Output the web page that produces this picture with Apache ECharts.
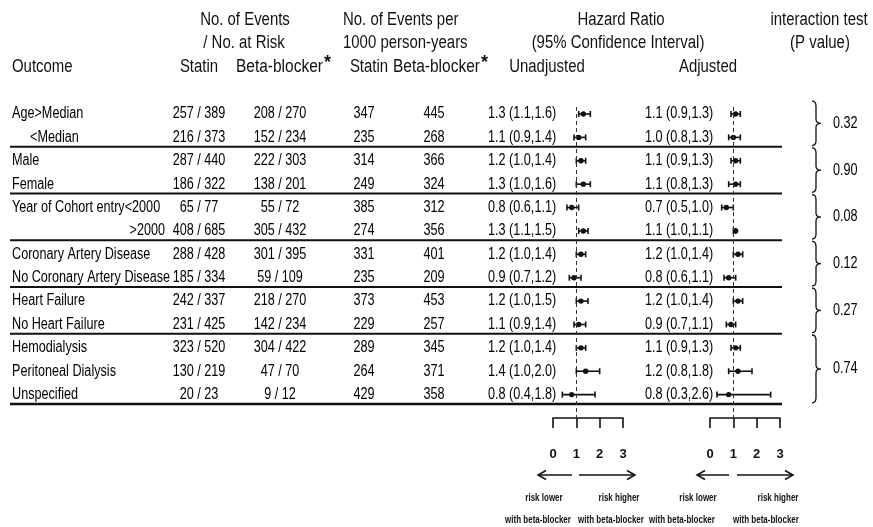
<!DOCTYPE html>
<html><head><meta charset="utf-8">
<script src="https://cdn.jsdelivr.net/npm/echarts@6/dist/echarts.min.js"></script>
<style>html,body{margin:0;padding:0;background:#fff}#c{width:873px;height:527px}</style>
</head><body><div id="c"></div>
<script>
// ---------------- data ----------------
const outcomes = ["Age>Median","<Median","Male","Female","Year of Cohort entry<2000",">2000",
  "Coronary Artery Disease","No Coronary Artery Disease","Heart Failure","No Heart Failure",
  "Hemodialysis","Peritoneal Dialysis","Unspecified"];
const statinEvents = ["257 / 389","216 / 373","287 / 440","186 / 322","65 / 77","408 / 685","288 / 428","185 / 334","242 / 337","231 / 425","323 / 520","130 / 219","20 / 23"];
const bbEvents = ["208 / 270","152 / 234","222 / 303","138 / 201","55 / 72","305 / 432","301 / 395","59 / 109","218 / 270","142 / 234","304 / 422","47 / 70","9 / 12"];
const statinRate = [347,235,314,249,385,274,331,235,373,229,289,264,429];
const bbRate = [445,268,366,324,312,356,401,209,453,257,345,371,358];
const unadjHR = [1.3,1.1,1.2,1.3,0.8,1.3,1.2,0.9,1.2,1.1,1.2,1.4,0.8];
const unadjLo = [1.1,0.9,1.0,1.0,0.6,1.1,1.0,0.7,1.0,0.9,1.0,1.0,0.4];
const unadjHi = [1.6,1.4,1.4,1.6,1.1,1.5,1.4,1.2,1.5,1.4,1.4,2.0,1.8];
const adjHR = [1.1,1.0,1.1,1.1,0.7,1.1,1.2,0.8,1.2,0.9,1.1,1.2,0.8];
const adjLo = [0.9,0.8,0.9,0.8,0.5,1.0,1.0,0.6,1.0,0.7,0.9,0.8,0.3];
const adjHi = [1.3,1.3,1.3,1.3,1.0,1.1,1.4,1.1,1.4,1.1,1.3,1.8,2.6];
const groups = [[0,1],[2,3],[4,5],[6,7],[8,9],[10,12]];
const pValues = ["0.32","0.90","0.08","0.12","0.27","0.74"];
const hrTicks = [0,1,2,3];

// ---------------- layout / style ----------------
const FONT = '"Liberation Sans", Arial, Helvetica, sans-serif';
const INK = '#111';
const GT = 107, GH = 311, YMIN = -0.3, YMAX = 13;
const NARROW = 0.79, ROWFS = 16;

function fmtCI(h, l, u) { return h.toFixed(1) + ' (' + l.toFixed(1) + ',' + u.toFixed(1) + ')'; }

function textCol(texts, xFor, alignFor) {
  return {
    type: 'custom', xAxisIndex: 0, yAxisIndex: 0, silent: true,
    data: texts.map((t, i) => [xFor(i), i]),
    renderItem(params, api) {
      const p = api.coord([api.value(0), api.value(1)]);
      return { type: 'text', x: p[0], y: p[1], scaleX: NARROW,
        style: { text: String(texts[params.dataIndex]), x: 0, y: 0,
          align: alignFor(params.dataIndex), verticalAlign: 'middle',
          fontSize: ROWFS, fontFamily: FONT, fill: '#000' } };
    }
  };
}

function forest(idx, est, lo, hi) {
  return {
    type: 'custom', xAxisIndex: idx, yAxisIndex: idx, silent: true,
    data: est.map((e, i) => [e, i, lo[i], hi[i]]),
    encode: { x: [0, 2, 3], y: 1 },
    renderItem(params, api) {
      const r = api.value(1);
      const c = api.coord([api.value(0), r]);
      const l = api.coord([api.value(2), r]);
      const h = api.coord([api.value(3), r]);
      const st = { stroke: INK, lineWidth: 1.6 };
      return { type: 'group', children: [
        { type: 'line', shape: { x1: l[0], y1: c[1], x2: h[0], y2: c[1] }, style: st },
        { type: 'line', shape: { x1: l[0], y1: c[1] - 3, x2: l[0], y2: c[1] + 3 }, style: st },
        { type: 'line', shape: { x1: h[0], y1: c[1] - 3, x2: h[0], y2: c[1] + 3 }, style: st },
        { type: 'circle', shape: { cx: c[0], cy: c[1], r: 2.7 }, style: { fill: INK } }
      ] };
    },
    markLine: {
      silent: true, symbol: 'none', label: { show: false },
      lineStyle: { type: [4, 3], color: '#333', width: 1 },
      data: [{ xAxis: 1 }]
    }
  };
}

function hdr(text, x, y, align, extra) {
  return Object.assign({ type: 'text', x: x, y: y, scaleX: 0.83,
    style: { text: text, x: 0, y: 0, align: align, verticalAlign: 'middle',
      fontSize: 18, fontFamily: FONT, fill: INK } }, extra || {});
}
function small(text, x, y) {
  return { type: 'text', x: x, y: y, scaleX: 0.8,
    style: { text: text, x: 0, y: 0, align: 'center', verticalAlign: 'middle',
      fontSize: 10, fontWeight: 'bold', fontFamily: FONT, fill: INK } };
}
function arrow(x1, x2, y) {
  const d = x2 > x1 ? -1 : 1;
  return { type: 'group', children: [
    { type: 'line', shape: { x1: x1, y1: y, x2: x2, y2: y }, style: { stroke: INK, lineWidth: 1.5 } },
    { type: 'polyline', shape: { points: [[x2 + d * 8, y - 4.5], [x2, y], [x2 + d * 8, y + 4.5]] },
      style: { stroke: INK, lineWidth: 1.5, fill: null } }
  ] };
}

const forestAxis = (gi) => ({
  type: 'value', gridIndex: gi, min: 0, max: 3, interval: 1, position: 'bottom',
  axisLine: { show: true, onZero: false, lineStyle: { color: INK, width: 1.6 } },
  axisTick: { show: true, length: 10, lineStyle: { color: INK, width: 1.6 } },
  axisLabel: { show: true, margin: 30, fontSize: 13, fontWeight: 'bold', fontFamily: FONT, color: INK,
    formatter: (v) => hrTicks.indexOf(v) >= 0 ? String(v) : '' },
  splitLine: { show: false }
});
const rowAxis = (gi) => ({
  type: 'value', gridIndex: gi, min: YMIN, max: YMAX, inverse: true, show: false
});

const chart = echarts.init(document.getElementById('c'), null, { renderer: 'canvas' });
chart.setOption({
  animation: false,
  backgroundColor: '#fff',
  grid: [
    { left: 0, top: GT, width: 873, height: GH },
    { left: 553, top: GT, width: 70, height: GH },
    { left: 710, top: GT, width: 70, height: GH }
  ],
  xAxis: [
    { type: 'value', gridIndex: 0, min: 0, max: 873, show: false },
    forestAxis(1), forestAxis(2)
  ],
  yAxis: [rowAxis(0), rowAxis(1), rowAxis(2)],
  series: [
    textCol(outcomes, (i) => i === 1 ? 30 : (i === 5 ? 165 : 12), (i) => i === 5 ? 'right' : 'left'),
    textCol(statinEvents, () => 199, () => 'center'),
    textCol(bbEvents, () => 280, () => 'center'),
    textCol(statinRate, () => 364, () => 'center'),
    textCol(bbRate, () => 434, () => 'center'),
    textCol(unadjHR.map((h, i) => fmtCI(h, unadjLo[i], unadjHi[i])), () => 488, () => 'left'),
    textCol(adjHR.map((h, i) => fmtCI(h, adjLo[i], adjHi[i])), () => 645, () => 'left'),
    // group separator lines
    {
      type: 'custom', xAxisIndex: 0, yAxisIndex: 0, silent: true,
      data: groups.map((g) => [10, g[1] + 0.4]),
      renderItem(params, api) {
        const a = api.coord([10, api.value(1)]);
        const b = api.coord([782, api.value(1)]);
        const last = params.dataIndex === groups.length - 1;
        return { type: 'line', shape: { x1: a[0], y1: a[1], x2: b[0], y2: b[1] },
          style: { stroke: INK, lineWidth: last ? 2.4 : 1.9 } };
      }
    },
    // braces + interaction p values
    {
      type: 'custom', xAxisIndex: 0, yAxisIndex: 0, silent: true,
      data: groups.map((g) => [g[0] - 0.55, g[1] + 0.35]),
      renderItem(params, api) {
        const t = api.coord([812, api.value(0)]);
        const b = api.coord([812, api.value(1)]);
        const x0 = t[0], xm = x0 + 4, xt = x0 + 9;
        const y1 = t[1], y2 = b[1], ym = (y1 + y2) / 2;
        const d = 'M' + x0 + ' ' + y1 + ' Q' + xm + ' ' + y1 + ' ' + xm + ' ' + (y1 + 5) +
          ' L' + xm + ' ' + (ym - 4) + ' Q' + xm + ' ' + ym + ' ' + xt + ' ' + ym +
          ' Q' + xm + ' ' + ym + ' ' + xm + ' ' + (ym + 4) +
          ' L' + xm + ' ' + (y2 - 5) + ' Q' + xm + ' ' + y2 + ' ' + x0 + ' ' + y2;
        return { type: 'group', children: [
          { type: 'path', shape: { pathData: d }, style: { stroke: INK, lineWidth: 1.3, fill: null } },
          { type: 'text', x: 833, y: ym, scaleX: NARROW,
            style: { text: pValues[params.dataIndex], x: 0, y: 0, align: 'left', verticalAlign: 'middle',
              fontSize: ROWFS, fontFamily: FONT, fill: '#000' } }
        ] };
      }
    },
    forest(1, unadjHR, unadjLo, unadjHi),
    forest(2, adjHR, adjLo, adjHi)
  ],
  graphic: [
    hdr('No. of Events', 245, 20, 'center'),
    hdr('/ No. at Risk', 244, 43, 'center'),
    hdr('No. of Events per', 343, 20, 'left'),
    hdr('1000 person-years', 343, 43, 'left'),
    hdr('Hazard Ratio', 621, 20, 'center'),
    hdr('(95% Confidence Interval)', 618, 43, 'center'),
    hdr('interaction test', 819, 20, 'center'),
    hdr('(P value)', 820, 43, 'center'),
    hdr('Outcome', 12, 67, 'left'),
    hdr('Statin', 199, 67, 'center'),
    hdr('Beta-blocker', 236, 67, 'left', { scaleX: 0.86 }),
    { type: 'text', x: 324, y: 63, style: { text: '*', align: 'left', verticalAlign: 'middle', fontSize: 18, fontWeight: 'bold', fontFamily: FONT, fill: INK } },
    hdr('Statin', 369, 67, 'center'),
    hdr('Beta-blocker', 393, 67, 'left', { scaleX: 0.86 }),
    { type: 'text', x: 481, y: 63, style: { text: '*', align: 'left', verticalAlign: 'middle', fontSize: 18, fontWeight: 'bold', fontFamily: FONT, fill: INK } },
    hdr('Unadjusted', 547, 67, 'center'),
    hdr('Adjusted', 708, 67, 'center'),
    arrow(572, 538, 475), arrow(579, 635, 475),
    arrow(729, 697, 475), arrow(737, 793, 475),
    small('risk lower', 544, 498), small('risk higher', 619, 498),
    small('risk lower', 698, 498), small('risk higher', 778, 498),
    small('with beta-blocker', 538, 520), small('with beta-blocker', 611, 520),
    small('with beta-blocker', 682, 520), small('with beta-blocker', 766, 520)
  ]
});
</script>
</body></html>
